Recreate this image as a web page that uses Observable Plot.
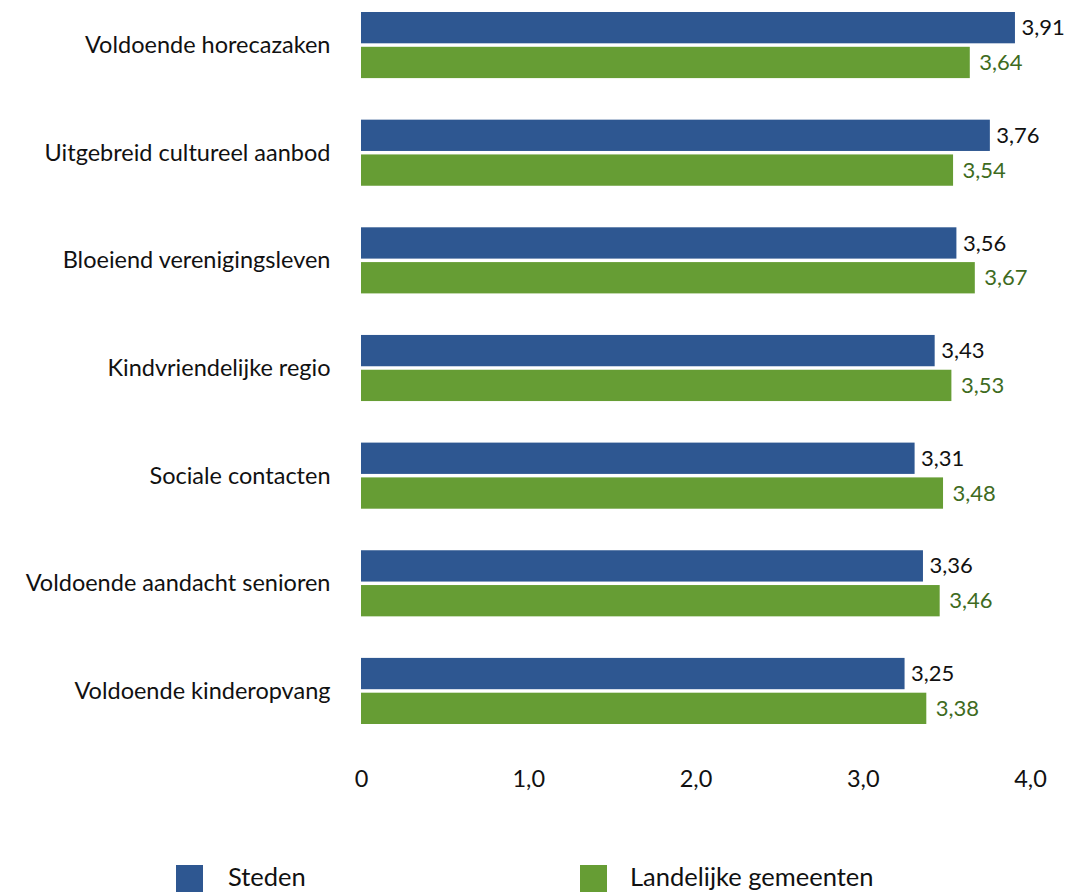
<!DOCTYPE html>
<html>
<head>
<meta charset="utf-8">
<script src="https://cdn.jsdelivr.net/npm/d3@7"></script>
<script src="https://cdn.jsdelivr.net/npm/@observablehq/plot@0.6"></script>
<style>
  html, body { margin: 0; padding: 0; background: #fff; }
  #chart { width: 1071px; position: relative; font-family: Lato, sans-serif; }
  .legend { position: relative; height: 90px; }
  .legend .sw { position: absolute; width: 27px; height: 27px; top: 62px; }
  .legend .lb { position: absolute; top: 58px; font-size: 25.5px; color: #111; line-height: 30px; }
</style>
</head>
<body>
<div id="chart"></div>
<script>
const categories = [
  "Voldoende horecazaken",
  "Uitgebreid cultureel aanbod",
  "Bloeiend verenigingsleven",
  "Kindvriendelijke regio",
  "Sociale contacten",
  "Voldoende aandacht senioren",
  "Voldoende kinderopvang"
];
const seriesNames = ["Steden", "Landelijke gemeenten"];
const steden = [3.91, 3.76, 3.56, 3.43, 3.31, 3.36, 3.25];
const landelijk = [3.64, 3.54, 3.67, 3.53, 3.48, 3.46, 3.38];
const xTicks = [0, 1, 2, 3, 4];
const colors = ["#2e5791", "#669d34"];
const labelColors = ["#111111", "#3e6b1e"];

const data = [];
categories.forEach((c, i) => {
  data.push({category: c, series: seriesNames[0], value: steden[i]});
  data.push({category: c, series: seriesNames[1], value: landelijk[i]});
});
const fmt = v => v.toFixed(2).replace(".", ",");

const chart = Plot.plot({
  width: 1071,
  height: 803,
  marginLeft: 361,
  marginRight: 41,
  marginTop: 12,
  marginBottom: 79,
  style: {fontFamily: "Lato, sans-serif", fontSize: "23.5px", color: "#111", background: "#fff"},
  x: {domain: [0, 4], ticks: xTicks, tickFormat: d => d === 0 ? "0" : d.toFixed(1).replace(".", ","), tickSize: 0, tickPadding: 46, label: null},
  fy: {domain: categories, paddingInner: 0.386, paddingOuter: 0, round: false, tickSize: 0, tickPadding: 31, label: null},
  y: {domain: seriesNames, paddingInner: 0.1, paddingOuter: 0, round: false, axis: null},
  color: {domain: seriesNames, range: colors},
  marks: [
    Plot.barX(data, {x: "value", y: "series", fy: "category", fill: "series"}),
    Plot.text(data.filter(d => d.series === seriesNames[0]), {x: "value", y: "series", fy: "category", text: d => fmt(d.value), dx: 6, textAnchor: "start", fill: labelColors[0], fontSize: 22}),
    Plot.text(data.filter(d => d.series === seriesNames[1]), {x: "value", y: "series", fy: "category", text: d => fmt(d.value), dx: 9, textAnchor: "start", fill: labelColors[1], fontSize: 22})
  ]
});
const root = document.getElementById("chart");
root.appendChild(chart);

const legend = document.createElement("div");
legend.className = "legend";
const legendX = [[176, 228], [580, 630]];
seriesNames.forEach((s, i) => {
  const sw = document.createElement("div");
  sw.className = "sw";
  sw.style.left = legendX[i][0] + "px";
  sw.style.background = colors[i];
  const lb = document.createElement("div");
  lb.className = "lb";
  lb.style.left = legendX[i][1] + "px";
  lb.textContent = s;
  legend.appendChild(sw);
  legend.appendChild(lb);
});
root.appendChild(legend);
</script>
</body>
</html>
